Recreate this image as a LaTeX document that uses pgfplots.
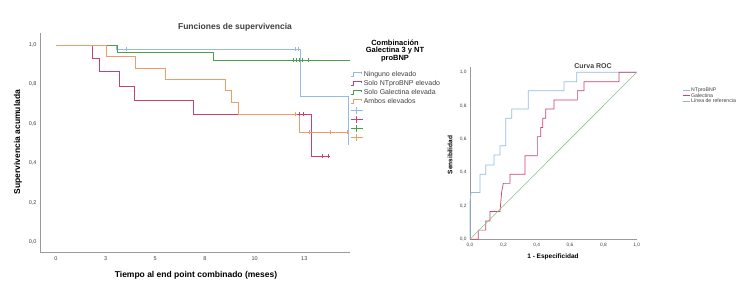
\documentclass[border=0pt]{standalone}
\usepackage{fontspec}
\setmainfont{Liberation Sans}
\usepackage{pgfplots}
\pgfplotsset{compat=1.18}
\definecolor{kmblue}{HTML}{94BBE3}
\definecolor{kmred}{HTML}{C7436D}
\definecolor{kmgreen}{HTML}{4E9E4E}
\definecolor{kmorange}{HTML}{EE9D68}
\definecolor{rocgreen}{HTML}{8CC08C}
\definecolor{axgray}{HTML}{9A9A9A}
\definecolor{txtgray}{HTML}{404040}
\begin{document}
\begin{tikzpicture}[x=1pt,y=1pt]
\useasboundingbox (0,0) rectangle (750,293);
\pgfplotsset{
  stepimg/.style={legend image code/.code={\draw[##1,line width=0.6pt] (0pt,-1.8pt) -- (3pt,-1.8pt) -- (3pt,1.8pt) -- (11pt,1.8pt) -- (11pt,0.2pt);}},
  crossimg/.style={legend image code/.code={\draw[##1,line width=0.6pt] (0pt,0pt) -- (12pt,0pt); \draw[##1,line width=0.6pt] (6pt,-3.2pt) -- (6pt,3.2pt);}},
}
% ---------------- Kaplan-Meier ----------------
\begin{axis}[
  at={(40pt,41pt)}, anchor=south west, scale only axis,
  width=310pt, height=219pt,
  xmin=-0.8, xmax=14.8, ymin=-0.051, ymax=1.061,
  axis x line*=bottom, axis y line*=left,
  axis line style={axgray, line width=0.6pt},
  major tick length=0pt,
  xtick={0,2.5,5,7.5,10,12.5}, xticklabels={0,3,5,8,10,13},
  ytick={0,0.2,0.4,0.6,0.8,1.0}, yticklabels={{0,0},{0,2},{0,4},{0,6},{0,8},{1,0}},
  tick label style={font=\fontsize{5.5}{6}\selectfont, text=txtgray},
  xticklabel style={yshift=-1.5pt},
  /pgf/number format/assume math mode=true,
  legend style={at={(rel axis cs:1.0,0.831)}, anchor=north west, draw=none, fill=none,
    font=\fontsize{7}{7}\selectfont, inner sep=0pt, row sep=0.5pt,
    nodes={inner sep=1pt, text height=5pt, text depth=1.5pt, text=txtgray}},
  legend cell align=left,
  clip=false,
]
\addplot[const plot, kmblue, line width=0.7pt, forget plot] coordinates {(0,1) (3.05,0.978) (12.3,0.738) (14.7,0.49)};
\addplot[const plot, kmred, line width=0.7pt, forget plot] coordinates {(0,1) (1.85,0.93) (2.2,0.864) (3.2,0.788) (3.93,0.72) (6.9,0.648) (12.85,0.437) (13.7,0.437)};
\addplot[const plot, kmgreen, line width=0.7pt, forget plot] coordinates {(0,1) (3.1,0.963) (7.9,0.922) (14.8,0.922)};
\addplot[const plot, kmorange, line width=0.7pt, forget plot] coordinates {(0,1) (2.55,0.94) (3.98,0.88) (5.5,0.826) (8.55,0.768) (8.85,0.709) (9.2,0.648) (12.25,0.557) (14.7,0.557)};
% censored marks
\addplot[only marks, mark=+, mark size=2pt, kmblue, forget plot] coordinates {(3.55,0.978) (12.05,0.978) (12.2,0.978)};
\addplot[only marks, mark=+, mark size=2pt, kmgreen, forget plot] coordinates {(11.96,0.922) (12.1,0.922) (12.24,0.922) (12.38,0.922) (12.72,0.922)};
\addplot[only marks, mark=+, mark size=2pt, kmred, forget plot] coordinates {(12.05,0.648) (12.25,0.648) (12.43,0.648) (13.4,0.437) (13.7,0.437)};
\addplot[only marks, mark=+, mark size=2pt, kmorange, forget plot] coordinates {(12.05,0.648) (12.75,0.557) (13.8,0.557) (14.65,0.557)};
% legend
\addlegendimage{stepimg, kmblue}\addlegendentry{Ninguno elevado}
\addlegendimage{stepimg, kmred}\addlegendentry{Solo NTproBNP elevado}
\addlegendimage{stepimg, kmgreen}\addlegendentry{Solo Galectina elevada}
\addlegendimage{stepimg, kmorange}\addlegendentry{Ambos elevados}
\addlegendimage{crossimg, kmblue}\addlegendentry{}
\addlegendimage{crossimg, kmred}\addlegendentry{}
\addlegendimage{crossimg, kmgreen}\addlegendentry{}
\addlegendimage{crossimg, kmorange}\addlegendentry{}
\end{axis}
\node[font=\fontsize{8.5}{9}\selectfont\bfseries, text=txtgray] at (235,266) {Funciones de supervivencia};
\node[font=\fontsize{8.5}{9}\selectfont\bfseries, text=black] at (196,18) {Tiempo al end point combinado (meses)};
\node[font=\fontsize{8.5}{9}\selectfont\bfseries, text=black, rotate=90] at (18,151) {Supervivencia acumulada};
\node[font=\fontsize{7.5}{7.3}\selectfont\bfseries, text=black, align=center] at (395,242) {Combinación\\Galectina 3 y NT\\proBNP};
% ---------------- ROC ----------------
\begin{axis}[
  at={(470pt,53.7pt)}, anchor=south west, scale only axis,
  width=166.7pt, height=172pt,
  xmin=0, xmax=1, ymin=0, ymax=1.03,
  axis x line*=bottom, axis y line*=left,
  axis line style={axgray, line width=0.6pt},
  major tick length=0pt,
  xtick={0,0.2,0.4,0.6,0.8,1.0}, xticklabels={{0,0},{0,2},{0,4},{0,6},{0,8},{1,0}},
  ytick={0,0.2,0.4,0.6,0.8,1.0}, yticklabels={{0,0},{0,2},{0,4},{0,6},{0,8},{1,0}},
  tick label style={font=\fontsize{4.8}{5}\selectfont, text=txtgray},
  /pgf/number format/assume math mode=true,
  legend style={at={(rel axis cs:1.275,0.885)}, anchor=north west, draw=none, fill=none,
    font=\fontsize{5.2}{5}\selectfont, inner sep=0pt, row sep=-0.8pt,
    nodes={inner sep=0.8pt, text height=3.6pt, text depth=1pt, text=txtgray}},
  legend cell align=left,
  legend image code/.code={\draw[#1, line width=0.6pt] (0pt,0pt) -- (7pt,0pt);},
  clip=false,
]
\addplot[kmblue, line width=0.7pt] coordinates {(0,0) (0,0.226) (0.006,0.28) (0.06,0.28) (0.06,0.39) (0.094,0.39) (0.094,0.445) (0.144,0.445) (0.144,0.505) (0.18,0.505) (0.18,0.56) (0.214,0.56) (0.214,0.725) (0.25,0.725) (0.25,0.78) (0.35,0.78) (0.35,0.89) (0.564,0.89) (0.564,0.944) (0.64,0.944) (0.64,1) (1,1)};
\addlegendentry{NTproBNP}
\addplot[kmred, line width=0.7pt] coordinates {(0,0) (0.05,0) (0.05,0.055) (0.094,0.055) (0.094,0.11) (0.12,0.11) (0.12,0.166) (0.18,0.166) (0.185,0.226) (0.19,0.285) (0.2,0.335) (0.24,0.335) (0.24,0.39) (0.33,0.39) (0.33,0.5) (0.404,0.5) (0.404,0.615) (0.424,0.615) (0.424,0.67) (0.436,0.67) (0.436,0.725) (0.454,0.725) (0.454,0.78) (0.504,0.78) (0.504,0.834) (0.644,0.834) (0.644,0.89) (0.684,0.89) (0.684,0.944) (0.894,0.944) (0.894,1) (1,1)};
\addlegendentry{Galectina}
\addplot[rocgreen, line width=0.6pt] coordinates {(0,0) (1,1)};
\addlegendentry{Línea de referencia}
\end{axis}
\node[font=\fontsize{7}{7}\selectfont\bfseries, text=txtgray] at (593,227) {Curva ROC};
\node[font=\fontsize{6.5}{7}\selectfont\bfseries, text=black] at (553,36) {1 - Especificidad};
\node[font=\fontsize{6.5}{7}\selectfont\bfseries, text=black, rotate=90] at (450,138) {Sensibilidad};
\end{tikzpicture}
\end{document}
